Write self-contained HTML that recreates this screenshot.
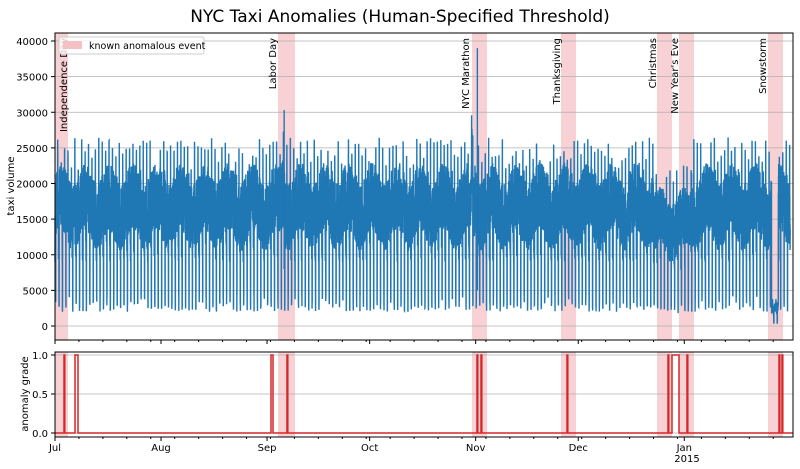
<!DOCTYPE html>
<html><head><meta charset="utf-8"><style>
html,body{margin:0;padding:0;background:#fff;}
svg{display:block;font-family:"DejaVu Sans","Liberation Sans",sans-serif;}
</style></head><body>
<svg id="s" width="800" height="469" viewBox="0 0 800 469" xmlns="http://www.w3.org/2000/svg">
<text x="400" y="22" text-anchor="middle" font-size="17">NYC Taxi Anomalies (Human-Specified Threshold)</text>
<g id="g"></g>
</svg>
<script>
const g=document.getElementById('g');
let h='';
const X0=55,X1=793,T0=33,T1=340,B0=352,B1=437;
const dx=3.42;
const yT=v=>326-v*0.007125, yB=v=>433-v*78;
const shades=[[55,68],[278,295],[472,487],[561,576],[657,672],[679,694],[768,783]];
for(const [a,b] of shades){
 h+=`<rect x="${a}" y="${T0}" width="${b-a}" height="${T1-T0}" fill="#f4c2c4" opacity="0.75"/>`;
 h+=`<rect x="${a}" y="${B0}" width="${b-a}" height="${B1-B0}" fill="#f4c2c4" opacity="0.75"/>`;
}
for(let v=0;v<=40000;v+=5000){const y=yT(v);h+=`<line x1="${X0}" x2="${X1}" y1="${y}" y2="${y}" stroke="#b0b0b0" stroke-width="0.8"/><line x1="${X0-4}" x2="${X0}" y1="${y}" y2="${y}" stroke="#000"/><text x="${X0-7}" y="${y+4}" text-anchor="end" font-size="10">${v}</text>`;}
[[0,'0.0'],[0.5,'0.5'],[1,'1.0']].forEach(([v,t])=>{const y=yB(v);h+=`<line x1="${X0}" x2="${X1}" y1="${y}" y2="${y}" stroke="#b0b0b0" stroke-width="0.8"/><line x1="${X0-4}" x2="${X0}" y1="${y}" y2="${y}" stroke="#000"/><text x="${X0-7}" y="${y+4}" text-anchor="end" font-size="10">${t}</text>`;});
// data
let seed=7;const rnd=()=>{seed=(seed*16807)%2147483647;return seed/2147483647;};
let p='';
const N=215*48;
for(let i=0;i<N;i++){
 const d=i/48, hr=(i%48)/2, dow=(Math.floor(d)+2)%7;
 let v;
 const wk=Math.sin(d/7*2*Math.PI)*1500;
 if(hr>=4&&hr<5.5) v=2000+rnd()*2500;
 else if(hr>=19&&hr<20) v=21000+rnd()*5500;
 else if(hr<4) v=9000+rnd()*7000;
 else v=12000+rnd()*9500+wk;
 if((dow==5||dow==6)&&hr<4) v+=6000;
 const x=X0+d*dx;
 if(d>121.8&&d<122.2) v*=1.3;
 if(d>66&&d<67) v*=1.1;
 if(d>209.5&&d<211.5) v*=0.15;
 if(d>175&&d<186) v*=0.85;
 p+=(i?'L':'M')+x.toFixed(2)+' '+yT(Math.max(0,v)).toFixed(1);
}
h+=`<path d="${p}" fill="none" stroke="#1f77b4" stroke-width="1.4"/>`;
h+=`<line x1="${X0+123.5*dx}" x2="${X0+123.5*dx}" y1="${yT(5000)}" y2="${yT(39000)}" stroke="#1f77b4" stroke-width="1.4"/>`;
h+=`<line x1="${X0+67*dx}" x2="${X0+67*dx}" y1="${yT(8000)}" y2="${yT(30300)}" stroke="#1f77b4" stroke-width="1.4"/>`;
// anomaly line
const sp=[[64,64.8],[75,78],[271,273],[287,287.8],[477,477.8],[481,481.8],[567,567.8],[668,668.8],[672,679],[687,687.8],[779,779.8],[782,782.8]];
let q=`M${X0} ${yB(0)}`;
for(const [a,b] of sp){q+=`L${a} ${yB(0)}L${a} ${yB(1)}L${b} ${yB(1)}L${b} ${yB(0)}`;}
q+=`L${X1} ${yB(0)}`;
h+=`<path d="${q}" fill="none" stroke="#d62728" stroke-width="1.5"/>`;
// frames
h+=`<rect x="${X0}" y="${T0}" width="${X1-X0}" height="${T1-T0}" fill="none" stroke="#000"/>`;
h+=`<rect x="${X0}" y="${B0}" width="${X1-X0}" height="${B1-B0}" fill="none" stroke="#000"/>`;
// x ticks
const months=[['Jul',0],['Aug',31],['Sep',62],['Oct',92],['Nov',123],['Dec',153],['Jan',184]];
for(let w=0;w<215;w+=7){const x=X0+w*dx;for(const y of [T1,B1])h+=`<line x1="${x}" x2="${x}" y1="${y}" y2="${y+2}" stroke="#000"/>`;}
for(const [m,d] of months){const x=X0+d*dx;for(const y of [T1,B1])h+=`<line x1="${x}" x2="${x}" y1="${y}" y2="${y+4}" stroke="#000"/>`;h+=`<text x="${x}" y="451" text-anchor="middle" font-size="10">${m}</text>`;}
h+=`<text x="687" y="462" text-anchor="middle" font-size="10">2015</text>`;
h+=`<text transform="translate(14 186) rotate(-90)" text-anchor="middle" font-size="10">taxi volume</text>`;
h+=`<text transform="translate(28 394) rotate(-90)" text-anchor="middle" font-size="10">anomaly grade</text>`;
// event labels
const ev=[['Independence Day',68,36],['Labor Day',277,36],['NYC Marathon',470,36],['Thanksgiving',561,36],['Christmas',657,36],['New Year\'s Eve',679,36],['Snowstorm',767,36]];
for(const [t,x,y] of ev){h+=`<text transform="translate(${x-1} ${y+2}) rotate(-90)" text-anchor="end" font-size="10">${t}</text>`;}
// legend
h+=`<rect x="59" y="37" width="145" height="17" fill="#fff" fill-opacity="0.8" stroke="#ccc" rx="2"/><rect x="63" y="41" width="19" height="8" fill="#f4c2c4"/><text x="89" y="49" font-size="9.5">known anomalous event</text>`;
g.innerHTML=h;
</script>
</body></html>
